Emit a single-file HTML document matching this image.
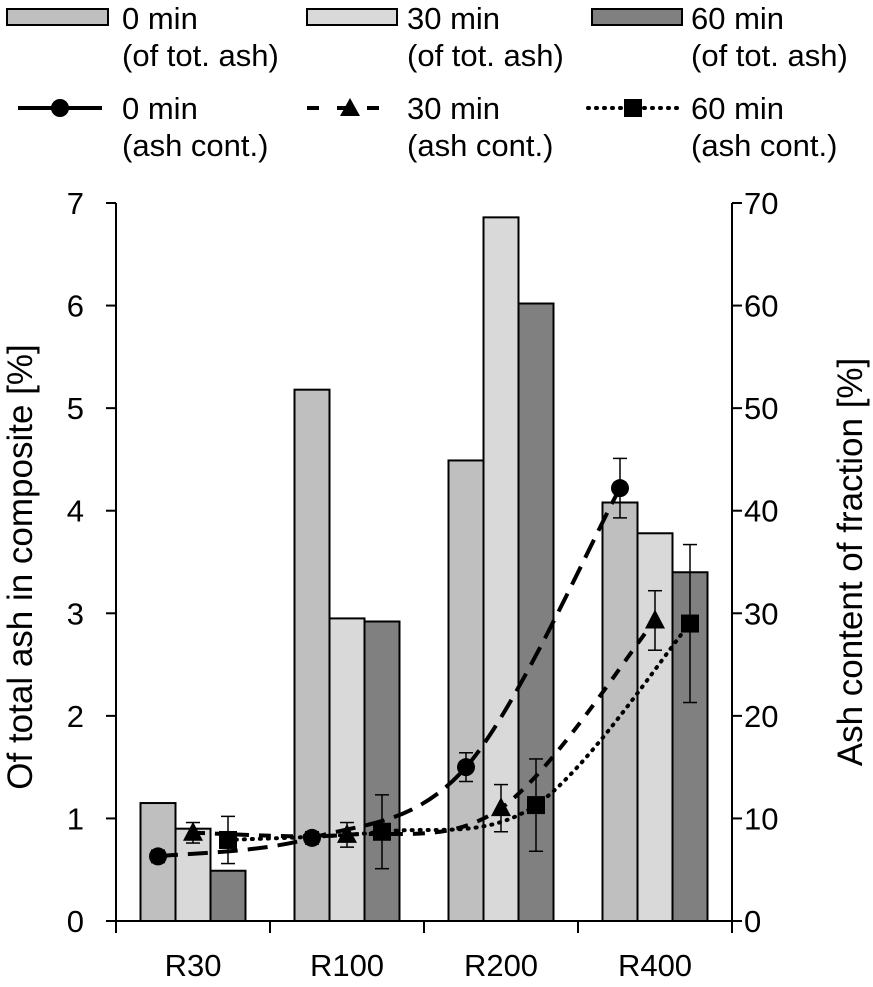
<!DOCTYPE html>
<html><head><meta charset="utf-8"><style>
html,body{margin:0;padding:0;background:#fff;}
svg{display:block;font-family:"Liberation Sans",Arial,sans-serif;}
</style></head><body>
<svg id="chart" width="873" height="987" viewBox="0 0 873 987">
<g id="legend" font-size="31">
 <g><rect x="7" y="9" width="101" height="16" fill="#bfbfbf" stroke="#000" stroke-width="2"/><text x="122" y="29">0 min</text><text x="122" y="66">(of tot. ash)</text></g>
 <g><rect x="307" y="9" width="90" height="16" fill="#d9d9d9" stroke="#000" stroke-width="2"/><text x="407" y="29">30 min</text><text x="407" y="66">(of tot. ash)</text></g>
 <g><rect x="592" y="9" width="90" height="16" fill="#808080" stroke="#000" stroke-width="2"/><text x="691" y="29">60 min</text><text x="691" y="66">(of tot. ash)</text></g>
 <g><line x1="18" y1="108" x2="102" y2="108" stroke="#000" stroke-width="4"/><circle cx="60" cy="108" r="9"/><text x="122" y="119">0 min</text><text x="122" y="156">(ash cont.)</text></g>
 <g><line x1="307" y1="108" x2="397" y2="108" stroke="#000" stroke-width="4" stroke-dasharray="12,18"/><polygon points="350,98 360,116 340,116"/><text x="407" y="119">30 min</text><text x="407" y="156">(ash cont.)</text></g>
 <g><line x1="588" y1="108" x2="682" y2="108" stroke="#000" stroke-width="4" stroke-dasharray="1,7" stroke-linecap="round"/><rect x="624" y="99" width="18" height="18"/><text x="691" y="119">60 min</text><text x="691" y="156">(ash cont.)</text></g>
</g>
<g id="plot"></g>
<text font-size="35" transform="translate(32,567) rotate(-90)" text-anchor="middle">Of total ash in composite [%]</text>
<text font-size="35" transform="translate(862,562) rotate(-90)" text-anchor="middle">Ash content of fraction [%]</text>
</svg>
<script>
const categories=["R30","R100","R200","R400"];
const bars0=[1.15,5.18,4.49,4.08];
const bars30=[0.90,2.95,6.86,3.78];
const bars60=[0.49,2.92,6.02,3.40];
const line0=[6.3,8.1,15.0,42.2];
const err0=[0.6,0.6,1.4,2.9];
const line30=[8.6,8.4,11.0,29.3];
const err30=[1.0,1.2,2.3,2.9];
const line60=[7.9,8.7,11.3,29.0];
const err60=[2.3,3.6,4.5,7.7];
const leftTicks=[0,1,2,3,4,5,6,7];
const rightTicks=[0,10,20,30,40,50,60,70];

const NS="http://www.w3.org/2000/svg";
const X0=116,X1=732,Y0=921,Y1=203;
const catW=(X1-X0)/categories.length, barW=35;
const yL=v=>Y0-(v/7)*(Y0-Y1);
const yR=v=>Y0-(v/70)*(Y0-Y1);
const xC=i=>X0+catW*(i+0.5);
const g=document.getElementById('plot');
function mk(tag,attrs,parent){const e=document.createElementNS(NS,tag);for(const k in attrs)e.setAttribute(k,attrs[k]);(parent||g).appendChild(e);return e;}

const series=[[bars0,"#bfbfbf"],[bars30,"#d9d9d9"],[bars60,"#808080"]];
series.forEach(([arr,col],s)=>{arr.forEach((v,i)=>{
 const r=mk('rect',{x:xC(i)+(s-1.5)*barW,y:yL(v),width:barW,height:Y0-yL(v),fill:col,stroke:"#000","stroke-width":2});
 
 
});});

const ax=mk('g',{stroke:"#000","stroke-width":2});


mk('line',{x1:X0,y1:Y1,x2:X0,y2:Y0},ax);
mk('line',{x1:X1,y1:Y1,x2:X1,y2:Y0},ax);
mk('line',{x1:X0-10,y1:Y0,x2:X1+10,y2:Y0},ax);
leftTicks.forEach(t=>{mk('line',{x1:X0-10,y1:yL(t),x2:X0,y2:yL(t)},ax);
 const tx=mk('text',{x:X0-32,y:yL(t)+11,"font-size":31,"text-anchor":"end",stroke:"none"});tx.textContent=t;
 
 });
rightTicks.forEach(t=>{mk('line',{x1:X1,y1:yR(t),x2:X1+10,y2:yR(t)},ax);
 const tx=mk('text',{x:X1+12,y:yR(t)+11,"font-size":31,stroke:"none"});tx.textContent=t;
 
 });
for(let i=0;i<=categories.length;i++)mk('line',{x1:X0+catW*i,y1:Y0,x2:X0+catW*i,y2:Y0+12},ax);
categories.forEach((c,i)=>{const tx=mk('text',{x:xC(i),y:Y0+55,"font-size":31,"text-anchor":"middle",stroke:"none"});tx.textContent=c;
 
 });

function smooth(pts){let d=`M${pts[0][0]},${pts[0][1]}`;
 for(let i=0;i<pts.length-1;i++){const p0=pts[i-1]||pts[i],p1=pts[i],p2=pts[i+1],p3=pts[i+2]||p2;
  const c1=[p1[0]+(p2[0]-p0[0])/6,p1[1]+(p2[1]-p0[1])/6],c2=[p2[0]-(p3[0]-p1[0])/6,p2[1]-(p3[1]-p1[1])/6];
  d+=` C${c1[0]},${c1[1]} ${c2[0]},${c2[1]} ${p2[0]},${p2[1]}`;}return d;}
const lines=[[line0,err0,-1,"20,10","circle"],[line30,err30,0,"12,10","tri"],[line60,err60,1,"1,7","sq"]];
lines.forEach(([vals,errs,off,dash,m],s)=>{
 const pts=vals.map((v,i)=>[xC(i)+off*barW,yR(v)]);
 const p=mk('path',{d:smooth(pts),fill:"none",stroke:"#000","stroke-width":4,"stroke-dasharray":dash,"stroke-linecap":s==2?"round":"butt"});
 
 
 vals.forEach((v,i)=>{const x=pts[i][0],y=pts[i][1],e=errs[i];
  const eg=mk('g',{stroke:"#000","stroke-width":1.5});
  
  
  mk('line',{x1:x,y1:yR(v-e),x2:x,y2:yR(v+e)},eg);
  mk('line',{x1:x-7,y1:yR(v-e),x2:x+7,y2:yR(v-e)},eg);
  mk('line',{x1:x-7,y1:yR(v+e),x2:x+7,y2:yR(v+e)},eg);
  let mkEl;
  if(m=="circle")mkEl=mk('circle',{cx:x,cy:y,r:9});
  else if(m=="tri")mkEl=mk('polygon',{points:`${x},${y-11} ${x+10},${y+8} ${x-10},${y+8}`});
  else mkEl=mk('rect',{x:x-9,y:y-9,width:18,height:18});
  
  
 });
});
</script>
</body></html>
